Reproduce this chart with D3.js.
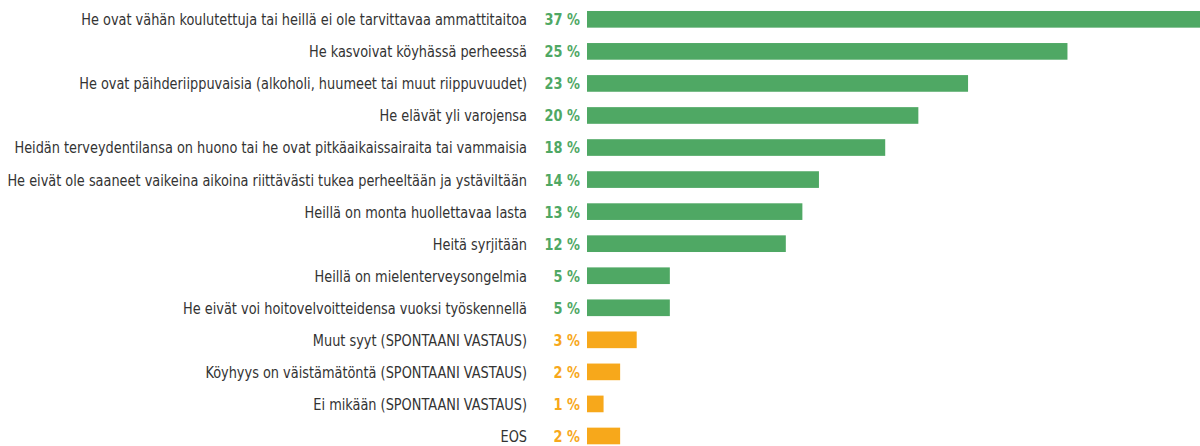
<!DOCTYPE html>
<html>
<head>
<meta charset="utf-8">
<script src="https://cdn.jsdelivr.net/npm/d3@7"></script>
<style>
  body { margin: 0; background: #fff; }
  #chart { width: 1200px; height: 446px; }
  text { font-family: "Liberation Sans Narrow", "DejaVu Sans Condensed", sans-serif; }
</style>
</head>
<body>
<div id="chart"></div>
<script>
var categories = [
    "He ovat vähän koulutettuja tai heillä ei ole tarvittavaa ammattitaitoa",
    "He kasvoivat köyhässä perheessä",
    "He ovat päihderiippuvaisia (alkoholi, huumeet tai muut riippuvuudet)",
    "He elävät yli varojensa",
    "Heidän terveydentilansa on huono tai he ovat pitkäaikaissairaita tai vammaisia",
    "He eivät ole saaneet vaikeina aikoina riittävästi tukea perheeltään ja ystäviltään",
    "Heillä on monta huollettavaa lasta",
    "Heitä syrjitään",
    "Heillä on mielenterveysongelmia",
    "He eivät voi hoitovelvoitteidensa vuoksi työskennellä",
    "Muut syyt (SPONTAANI VASTAUS)",
    "Köyhyys on väistämätöntä (SPONTAANI VASTAUS)",
    "Ei mikään (SPONTAANI VASTAUS)",
    "EOS"
];
// bar lengths as drawn in the picture
var barValues = [37, 29, 23, 20, 18, 14, 13, 12, 5, 5, 3, 2, 1, 2];
// percentages as printed
var valueLabels = ["37 %", "25 %", "23 %", "20 %", "18 %", "14 %", "13 %", "12 %", "5 %", "5 %", "3 %", "2 %", "1 %", "2 %"];
var groups = ["main", "main", "main", "main", "main", "main", "main", "main", "main", "main",
              "spont", "spont", "spont", "spont"];

var width = 1200, height = 446;
var barStart = 587;
var squeeze = 0.87; // no condensed font here, so narrow the glyphs

var svg = d3.select("#chart").append("svg")
    .attr("width", width)
    .attr("height", height);

var x = d3.scaleLinear()
    .domain([0, d3.max(barValues)])
    .range([barStart, width]);

var y = d3.scaleBand()
    .domain(d3.range(categories.length))
    .range([3.3, 452])
    .paddingInner(0.48)
    .paddingOuter(0.24);

var color = d3.scaleOrdinal()
    .domain(["main", "spont"])
    .range(["#4fa864", "#f7a81b"]);

var rows = svg.selectAll("g.row")
    .data(categories)
    .enter().append("g")
    .attr("class", "row");

rows.append("rect")
    .attr("x", x(0))
    .attr("y", function (d, i) { return y(i); })
    .attr("width", function (d, i) { return x(barValues[i]) - x(0); })
    .attr("height", y.bandwidth())
    .attr("fill", function (d, i) { return color(groups[i]); });

rows.append("text")
    .attr("transform", function (d, i) {
        return "translate(527," + (y(i) + y.bandwidth() / 2) + ") scale(" + squeeze + ",1)";
    })
    .attr("dy", "0.36em")
    .attr("text-anchor", "end")
    .attr("fill", "#333")
    .style("font-size", "16.5px")
    .text(function (d) { return d; });

rows.append("text")
    .attr("transform", function (d, i) {
        return "translate(580," + (y(i) + y.bandwidth() / 2) + ") scale(" + squeeze + ",1)";
    })
    .attr("dy", "0.36em")
    .attr("text-anchor", "end")
    .attr("fill", function (d, i) { return color(groups[i]); })
    .style("font-size", "16.5px")
    .style("font-weight", "bold")
    .text(function (d, i) { return valueLabels[i]; });
</script>
</body>
</html>
